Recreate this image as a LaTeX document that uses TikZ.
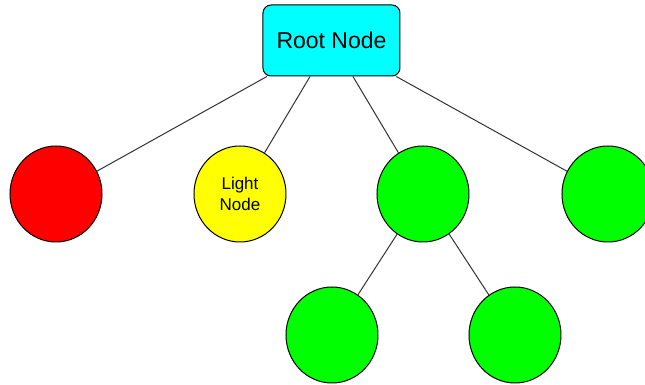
\documentclass[tikz,border=0pt]{standalone}
\usepackage{fontspec}
\setmainfont{Liberation Sans}
\usetikzlibrary{shapes.geometric}
\definecolor{rootcyan}{RGB}{0,255,255}
\definecolor{ballred}{RGB}{255,0,0}
\definecolor{ballyellow}{RGB}{255,255,0}
\definecolor{ballgreen}{RGB}{0,255,0}

\begin{document}
\begin{tikzpicture}[x=0.5pt, y=-0.5pt,
    ball/.style={shape=ellipse, draw=black, line width=0.5pt, inner sep=0pt,
                 minimum width=46pt, minimum height=48pt},
    link/.style={draw=black!80, line width=0.5pt}]

        \useasboundingbox (0,0) rectangle (645,385);
        \clip (0,0) rectangle (645,385);

            \node[draw=black, fill=rootcyan, rounded corners=4pt, line width=0.5pt,
                  minimum width=68.5pt, minimum height=35.5pt,
                  font=\fontsize{11.5}{13}\selectfont] (root) at (331.5,40.5) {Root Node};

            \node[ball, fill=ballred] (R) at (56,194) {};
            \node[ball, fill=ballyellow, align=center,
                  font=\fontsize{8.5}{10.5}\selectfont] (L) at (240,194) {Light\\Node};
            \node[ball, fill=ballgreen] (G1) at (423,194) {};
            \node[ball, fill=ballgreen] (G2) at (608,194) {};
            \node[ball, fill=ballgreen] (G3) at (332,335) {};
            \node[ball, fill=ballgreen] (G4) at (515,335) {};

            \draw[link] (root) -- (R);
            \draw[link] (root) -- (L);
            \draw[link] (root) -- (G1);
            \draw[link] (root) -- (G2);
            \draw[link] (G1) -- (G3);
            \draw[link] (G1) -- (G4);

        \end{tikzpicture}
\end{document}
